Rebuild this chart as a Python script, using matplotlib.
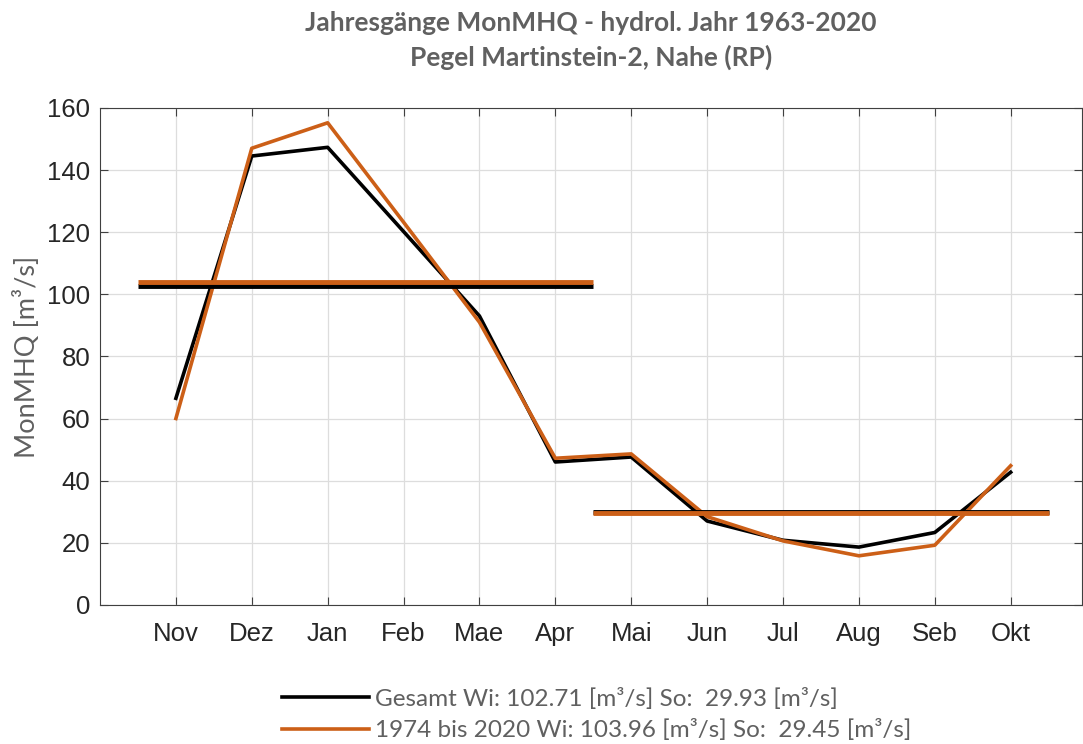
import numpy as np
import matplotlib.pyplot as plt

months = ["Nov", "Dez", "Jan", "Feb", "Mae", "Apr", "Mai", "Jun", "Jul", "Aug", "Seb", "Okt"]
gesamt = [66.5, 144.5, 147.3, 120.2, 93.0, 46.0, 47.6, 27.0, 20.8, 18.6, 23.3, 42.7]
neu = [60.0, 147.0, 155.2, 123.2, 91.0, 47.2, 48.6, 28.4, 20.6, 15.8, 19.2, 44.8]
wi_gesamt, so_gesamt = 102.71, 29.93
wi_neu, so_neu = 103.96, 29.45

grau = "#606060"
orange = "#CC5F17"

fig = plt.figure(figsize=(10.83, 7.44), dpi=100)
ax = fig.add_axes([100 / 1083, 0.187, 982 / 1083, 0.668])

x = np.arange(1, 13)
ax.plot(x, gesamt, color="black", lw=2.6, label="Gesamt Wi: %.2f [m³/s] So:  %.2f [m³/s]" % (wi_gesamt, so_gesamt))
ax.plot(x, neu, color=orange, lw=2.6, label="1974 bis 2020 Wi: %.2f [m³/s] So:  %.2f [m³/s]" % (wi_neu, so_neu))
ax.hlines(wi_gesamt, 0.5, 6.5, color="black", lw=3.5)
ax.hlines(wi_neu, 0.5, 6.5, color=orange, lw=3.5)
ax.hlines(so_gesamt, 6.5, 12.5, color="black", lw=3.5)
ax.hlines(so_neu, 6.5, 12.5, color=orange, lw=3.5)

ax.set_xlim(0, 12.94)
ax.set_ylim(0, 160)
ax.set_xticks(x)
ax.set_xticklabels(months, family="Liberation Sans", fontsize=18.5, color="#262626")
ax.set_yticks(np.arange(0, 161, 20))
ax.set_yticklabels([str(v) for v in range(0, 161, 20)], family="Liberation Sans", fontsize=18.5, color="#262626")
ax.tick_params(axis="x", direction="in", top=True, length=6, color="#404040", pad=12)
ax.tick_params(axis="y", direction="in", right=True, length=6, color="#404040", pad=7)
ax.grid(True, color="#dddddd", lw=0.9)
for s in ax.spines.values():
    s.set_color("#404040")
ax.set_ylabel("MonMHQ [m³/s]", family="Lato", fontsize=19.5, color=grau, labelpad=5)

ax.set_title("Jahresgänge MonMHQ - hydrol. Jahr 1963-2020\nPegel Martinstein-2, Nahe (RP)",
             family="Lato", fontweight="bold", fontsize=19, color=grau, pad=30, linespacing=1.5)

leg = fig.legend(loc="lower center", bbox_to_anchor=(0.551, -0.026), frameon=False, handlelength=3.6,
                 prop={"family": "Lato", "size": 17.5}, labelspacing=0.4, handletextpad=0.25)
for t in leg.get_texts():
    t.set_color(grau)

fig.savefig("out.png", dpi=100)
